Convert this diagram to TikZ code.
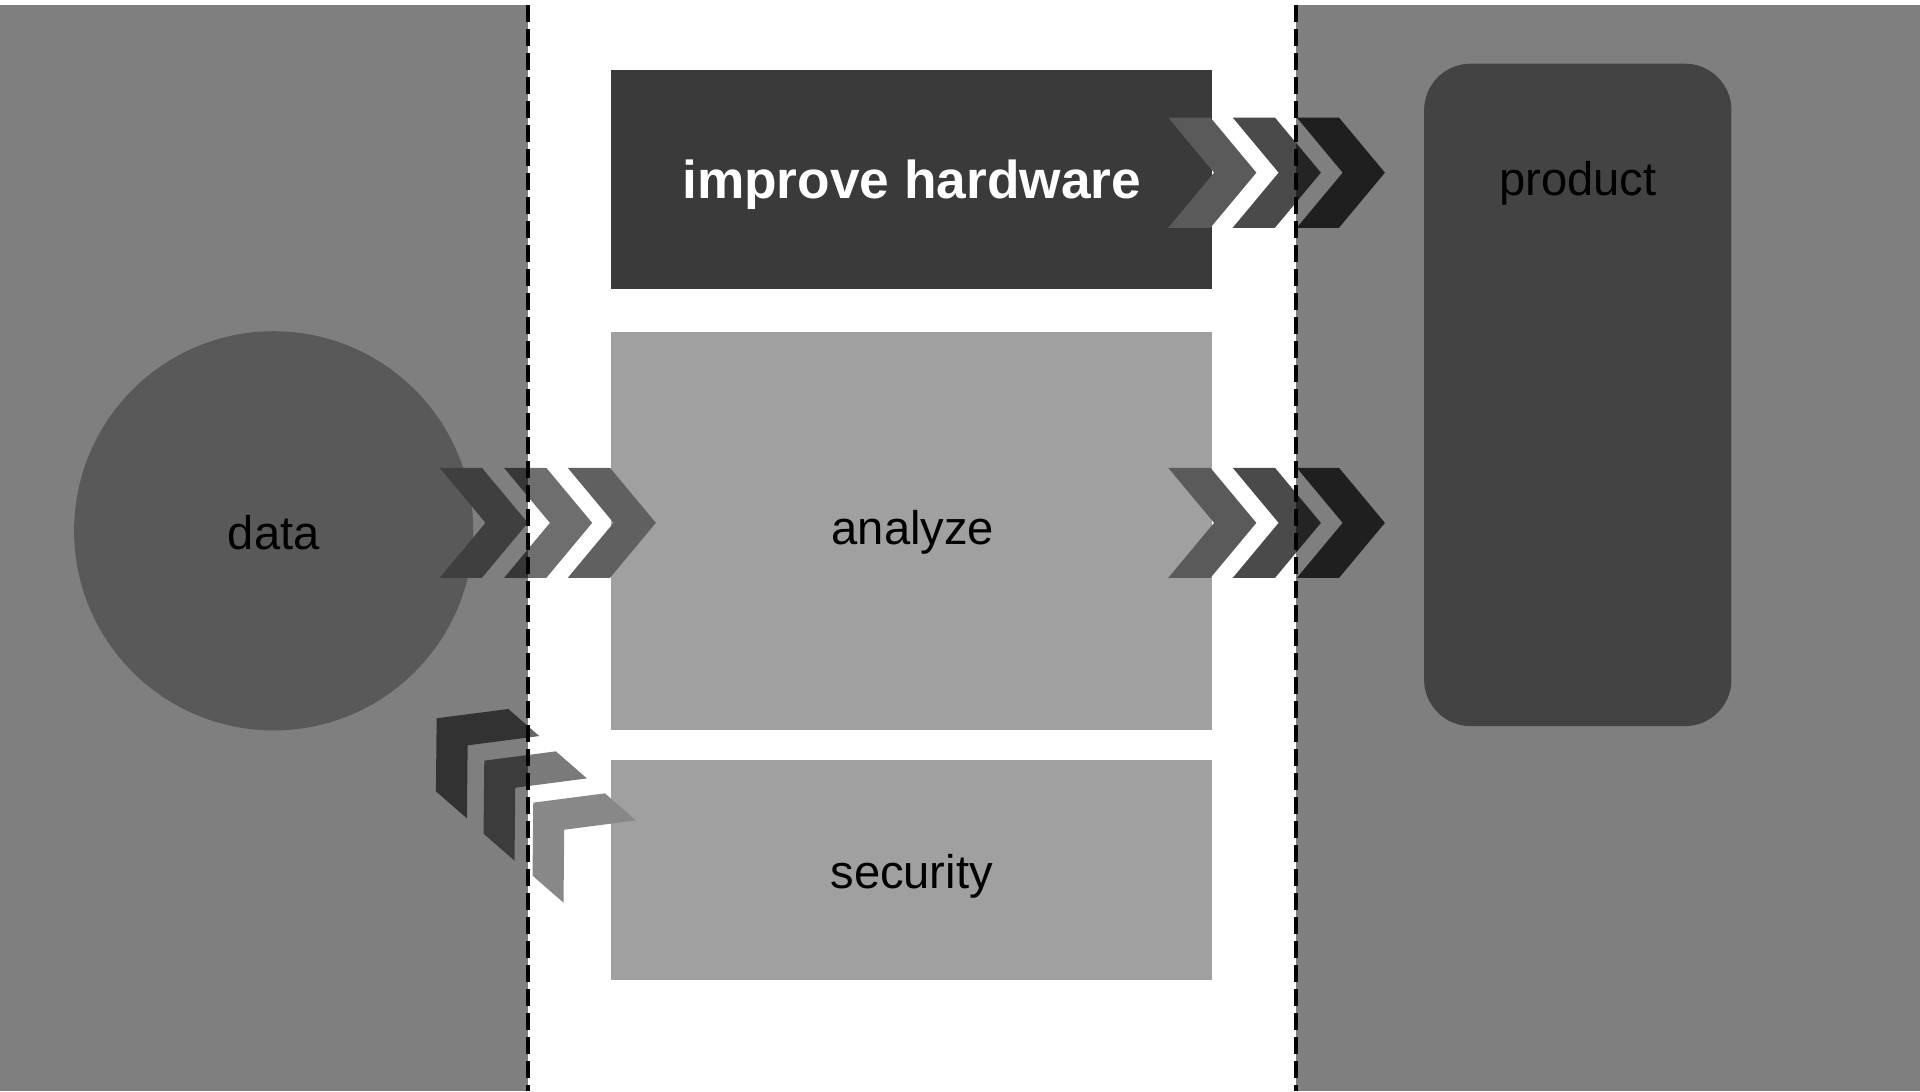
\documentclass[tikz,border=0pt]{standalone}
\usepackage{fontspec}
\setmainfont{Liberation Sans}
\definecolor{hwc}{HTML}{3A3A3A}
\definecolor{boxc}{HTML}{A0A0A0}
\definecolor{datac}{HTML}{B4B4B4}
\definecolor{prodc}{HTML}{888888}
\definecolor{ca}{HTML}{808080}
\definecolor{cb}{HTML}{6E6E6E}
\definecolor{cc}{HTML}{606060}
\definecolor{cone}{HTML}{5A5A5A}
\definecolor{ctwo}{HTML}{4A4A4A}
\definecolor{cthree}{HTML}{404040}
\definecolor{lp}{HTML}{666666}
\definecolor{lq}{HTML}{7A7A7A}
\definecolor{lr}{HTML}{888888}
\begin{document}
\begin{tikzpicture}[x=1pt,y=-1pt,
  box/.style={draw=none, inner sep=0pt, minimum width=491pt},
  txt/.style={inner sep=0pt, font=\fontsize{38.5}{46}\selectfont},
  chev/.pic={\fill[pic actions] (0,-45) -- (34.5,-45) -- (72,0) -- (34.5,45) -- (0,45) -- (37.5,0) -- cycle;},
  lchev/.pic={\fill[pic actions] (0,0) -- (58.5,-7.6) -- (83.8,14.5) -- (25.3,22.1) -- (24.7,81.7) -- (-0.6,59.6) -- cycle;},
  panel/.style={fill=black, fill opacity=0.5},
  dashline/.style={draw=black, line width=4pt, dash pattern=on 13.6pt off 6pt}]
\useasboundingbox (0,0) rectangle (1568,891);
\fill[white] (0,0) rectangle (1568,891);
% main nodes
\node[box, fill=hwc, minimum height=179pt] (hw) at (744.5,146.5) {};
\node[txt, text=white, font=\fontsize{43.5}{52}\selectfont\bfseries] (hwlabel) at (744.5,151) {improve hardware};
\node[box, fill=boxc, minimum height=325pt] (an) at (744.5,433.5) {};
\node[txt] (anlabel) at (745.5,435) {analyze};
\node[box, fill=boxc, minimum height=179pt] (sec) at (744.5,710.5) {};
\node[txt] (seclabel) at (744.5,716) {security};
\node[circle, fill=datac, draw=none, minimum size=326pt, inner sep=0pt] (data) at (223.5,433.5) {};
\node[txt] (datalabel) at (223.5,435) {data};
\node[rectangle, rounded corners=38pt, fill=prodc, draw=none, minimum width=251pt, minimum height=541pt, inner sep=0pt] (prod) at (1288.5,322.5) {};
\node[txt] (prodlabel) at (1288.5,150) {product};
% chevrons: top row
\pic[fill=cone] at (954,141) {chev};
\pic[fill=ctwo] at (1006.7,141) {chev};
\pic[fill=cthree] at (1059,141) {chev};
% chevrons: middle right
\pic[fill=cone] at (954,427) {chev};
\pic[fill=ctwo] at (1006.7,427) {chev};
\pic[fill=cthree] at (1059,427) {chev};
% chevrons: middle left
\pic[fill=ca] at (359,427) {chev};
\pic[fill=cb] at (411.6,427) {chev};
\pic[fill=cc] at (463.6,427) {chev};
% bottom-left chevrons
\pic[fill=lp] at (356.6,586.6) {lchev};
\pic[fill=lq] at (395.5,621.2) {lchev};
\pic[fill=lr] at (435.5,655.5) {lchev};
% shaded side panels
\fill[panel] (0,4) rectangle (431.2,891);
\fill[panel] (1058.4,4) rectangle (1568,891);
% dashed separators
\coordinate (lt) at (431.2,4);
\coordinate (lb) at (431.2,891);
\coordinate (rt) at (1058.4,4);
\coordinate (rb) at (1058.4,891);
\draw[dashline] (lt) -- (lb);
\draw[dashline] (rt) -- (rb);
\end{tikzpicture}
\end{document}
